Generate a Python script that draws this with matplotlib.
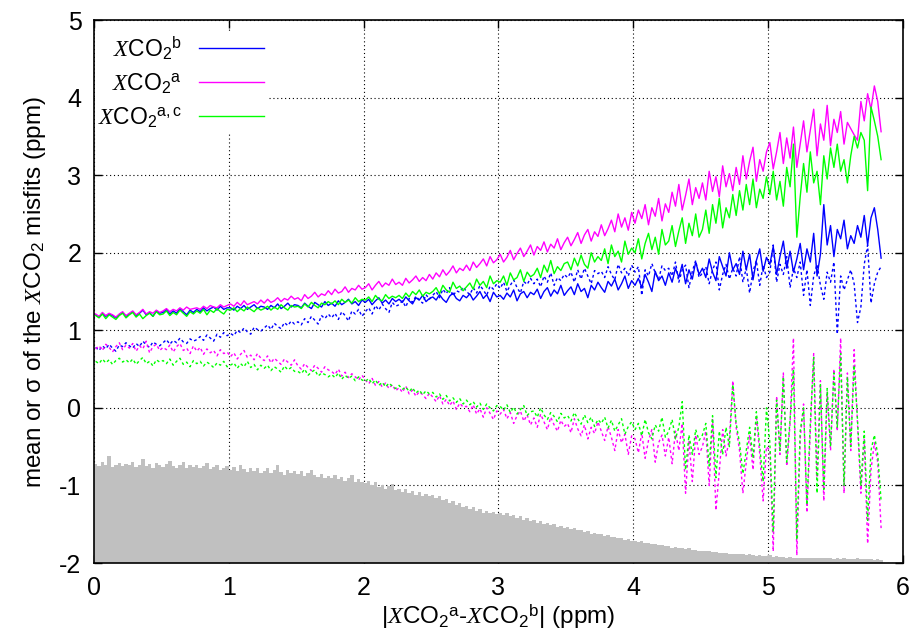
import numpy as np
import matplotlib
matplotlib.use("Agg")
import matplotlib.pyplot as plt

plt.rcParams['font.family'] = ['Liberation Sans', 'DejaVu Sans']
plt.rcParams['mathtext.fontset'] = 'custom'
plt.rcParams['mathtext.rm'] = 'Liberation Sans'
plt.rcParams['mathtext.it'] = 'Liberation Serif:italic'
plt.rcParams['axes.unicode_minus'] = False

# bin width of |XCO2a - XCO2b| (ppm)
bin_w = 0.025

# sigma of misfits (solid lines)
sig_b = [
    1.20, 1.17, 1.22, 1.18, 1.21, 1.19, 1.16, 1.20, 1.23, 1.18,
    1.21, 1.24, 1.19, 1.22, 1.26, 1.20, 1.23, 1.18, 1.25, 1.22,
    1.23, 1.27, 1.21, 1.25, 1.22, 1.28, 1.24, 1.20, 1.26, 1.23,
    1.27, 1.24, 1.29, 1.25, 1.28, 1.30, 1.26, 1.31, 1.27, 1.29,
    1.29, 1.26, 1.31, 1.28, 1.32, 1.27, 1.30, 1.33, 1.28, 1.31,
    1.30, 1.27, 1.32, 1.29, 1.34, 1.28, 1.31, 1.35, 1.30, 1.33,
    1.32, 1.29, 1.35, 1.31, 1.28, 1.36, 1.33, 1.30, 1.37, 1.32,
    1.35, 1.31, 1.38, 1.33, 1.36, 1.40, 1.34, 1.37, 1.32, 1.39,
    1.36, 1.40, 1.33, 1.38, 1.42, 1.35, 1.39, 1.34, 1.41, 1.37,
    1.40, 1.36, 1.43, 1.38, 1.34, 1.42, 1.39, 1.45, 1.37, 1.41,
    1.43, 1.39, 1.46, 1.40, 1.36, 1.44, 1.48, 1.41, 1.38, 1.45,
    1.42, 1.47, 1.39, 1.44, 1.50, 1.41, 1.46, 1.37, 1.49, 1.43,
    1.45, 1.40, 1.48, 1.43, 1.52, 1.38, 1.47, 1.50, 1.42, 1.49,
    1.46, 1.53, 1.41, 1.50, 1.55, 1.44, 1.52, 1.47, 1.58, 1.45,
    1.51, 1.56, 1.46, 1.60, 1.50, 1.54, 1.42, 1.58, 1.52, 1.62,
    1.55, 1.49, 1.63, 1.57, 1.66, 1.52, 1.60, 1.70, 1.54, 1.64,
    1.58, 1.67, 1.55, 1.72, 1.62, 1.50, 1.76, 1.64, 1.70, 1.58,
    1.74, 1.62, 1.80, 1.68, 1.85, 1.60, 1.78, 1.66, 1.88, 1.72,
    1.80, 1.68, 1.92, 1.75, 1.64, 1.95, 1.82, 1.70, 2.00, 1.78,
    1.86, 1.72, 2.02, 1.78, 1.98, 1.65, 1.90, 2.05, 1.76, 1.94,
    1.85, 2.08, 1.72, 1.95, 2.15, 1.80, 2.02, 1.75, 1.92, 2.12,
    1.78, 2.05, 1.88, 2.25, 1.70, 1.98, 2.62, 2.10, 2.35, 1.95,
    2.30, 2.18, 2.42, 2.05, 2.22, 2.12, 2.35, 2.20, 2.48, 2.10,
    2.45, 2.58, 2.30, 1.93,
]
sig_a = [
    1.21, 1.18, 1.23, 1.19, 1.22, 1.20, 1.17, 1.21, 1.24, 1.19,
    1.22, 1.25, 1.20, 1.23, 1.27, 1.21, 1.24, 1.22, 1.26, 1.23,
    1.25, 1.28, 1.24, 1.27, 1.25, 1.29, 1.26, 1.30, 1.27, 1.28,
    1.29, 1.27, 1.31, 1.28, 1.32, 1.30, 1.29, 1.33, 1.30, 1.32,
    1.34, 1.31, 1.36, 1.32, 1.38, 1.33, 1.35, 1.37, 1.34, 1.39,
    1.35, 1.40, 1.36, 1.38, 1.42, 1.37, 1.41, 1.39, 1.44, 1.40,
    1.42, 1.38, 1.46, 1.41, 1.44, 1.49, 1.43, 1.47, 1.45, 1.51,
    1.46, 1.53, 1.48, 1.50, 1.56, 1.49, 1.54, 1.52, 1.58, 1.53,
    1.55, 1.60, 1.52, 1.58, 1.63, 1.56, 1.61, 1.58, 1.66, 1.59,
    1.62, 1.58, 1.67, 1.61, 1.65, 1.70, 1.63, 1.68, 1.64, 1.72,
    1.66, 1.74, 1.69, 1.78, 1.71, 1.76, 1.83, 1.74, 1.80, 1.77,
    1.84, 1.77, 1.88, 1.81, 1.86, 1.92, 1.83, 1.95, 1.87, 1.91,
    1.98, 1.88, 1.94, 2.03, 1.91, 1.99, 2.06, 1.95, 2.02, 2.10,
    1.97, 2.08, 2.03, 2.14, 2.01, 2.11, 2.06, 2.18, 2.04, 2.13,
    2.20, 2.09, 2.17, 2.26, 2.12, 2.23, 2.30, 2.15, 2.27, 2.21,
    2.36, 2.22, 2.31, 2.42, 2.27, 2.50, 2.33, 2.45, 2.29, 2.52,
    2.38, 2.55, 2.44, 2.62, 2.36, 2.58, 2.47, 2.70, 2.41, 2.63,
    2.52, 2.78, 2.60, 2.88, 2.55, 2.74, 2.95, 2.62, 2.84, 2.70,
    2.90, 2.68, 3.05, 2.79, 2.98, 2.72, 3.12, 2.85, 3.02, 2.80,
    3.10, 2.88, 3.25, 2.95, 3.18, 3.36, 2.92, 3.20, 3.05, 3.30,
    3.42, 3.08, 3.30, 3.55, 3.15, 3.48, 3.22, 3.62, 3.10, 3.40,
    3.70, 3.30, 3.58, 3.85, 3.25, 3.66, 3.45, 3.90, 3.38, 3.72,
    3.55, 3.82, 3.40, 3.68, 3.60, 3.52, 3.45, 3.95, 3.70, 4.05,
    3.85, 4.15, 3.95, 3.56,
]
sig_ac = [
    1.19, 1.16, 1.21, 1.15, 1.20, 1.17, 1.14, 1.19, 1.22, 1.16,
    1.20, 1.23, 1.17, 1.21, 1.15, 1.19, 1.22, 1.18, 1.24, 1.20,
    1.21, 1.25, 1.19, 1.23, 1.20, 1.26, 1.22, 1.18, 1.24, 1.21,
    1.25, 1.22, 1.27, 1.20, 1.26, 1.23, 1.28, 1.24, 1.21, 1.27,
    1.26, 1.29, 1.24, 1.28, 1.25, 1.30, 1.27, 1.24, 1.29, 1.26,
    1.28, 1.31, 1.26, 1.30, 1.27, 1.33, 1.29, 1.26, 1.32, 1.30,
    1.31, 1.28, 1.34, 1.30, 1.36, 1.32, 1.29, 1.35, 1.33, 1.37,
    1.34, 1.38, 1.33, 1.40, 1.36, 1.39, 1.35, 1.42, 1.37, 1.40,
    1.39, 1.43, 1.37, 1.45, 1.40, 1.38, 1.46, 1.41, 1.44, 1.42,
    1.45, 1.41, 1.48, 1.43, 1.50, 1.46, 1.52, 1.44, 1.49, 1.47,
    1.50, 1.55, 1.47, 1.58, 1.52, 1.49, 1.62, 1.54, 1.57, 1.51,
    1.56, 1.61, 1.53, 1.66, 1.58, 1.63, 1.55, 1.70, 1.60, 1.64,
    1.62, 1.70, 1.58, 1.74, 1.65, 1.68, 1.78, 1.63, 1.75, 1.69,
    1.72, 1.80, 1.68, 1.84, 1.75, 1.90, 1.73, 1.82, 1.77, 1.86,
    1.88, 1.78, 1.93, 1.83, 1.97, 1.85, 1.80, 2.00, 1.88, 1.95,
    1.90, 2.05, 1.86, 2.10, 1.95, 2.02, 1.88, 2.15, 1.98, 2.06,
    2.00, 2.18, 1.92, 2.12, 2.25, 2.04, 2.20, 1.98, 2.30, 2.10,
    2.15, 2.35, 2.08, 2.28, 2.45, 2.12, 2.38, 2.22, 2.50, 2.20,
    2.30, 2.55, 2.25, 2.62, 2.38, 2.70, 2.32, 2.58, 2.45, 2.75,
    2.48, 2.80, 2.55, 2.88, 2.62, 2.95, 2.58, 2.82, 2.70, 2.98,
    2.75, 3.05, 2.68, 2.92, 2.60, 3.10, 2.85, 3.40, 2.20, 2.72,
    3.15, 2.78, 3.30, 2.90, 3.05, 2.62, 3.25, 2.95, 3.35, 3.10,
    3.40, 3.05, 3.20, 2.90, 3.25, 3.50, 3.35, 3.55, 3.45, 2.80,
    3.88, 3.70, 3.50, 3.20,
]

# mean of misfits (dotted lines)
mean_b = [
    0.78, 0.74, 0.80, 0.76, 0.82, 0.77, 0.73, 0.81, 0.79, 0.84,
    0.80, 0.77, 0.83, 0.79, 0.86, 0.81, 0.78, 0.85, 0.82, 0.80,
    0.84, 0.88, 0.82, 0.87, 0.84, 0.90, 0.85, 0.83, 0.89, 0.86,
    0.88, 0.92, 0.87, 0.94, 0.90, 0.86, 0.95, 0.91, 0.97, 0.93,
    0.96, 0.93, 1.00, 0.97, 1.03, 0.98, 0.95, 1.04, 1.01, 0.99,
    1.03, 1.07, 1.01, 1.09, 1.05, 1.02, 1.10, 1.06, 1.12, 1.08,
    1.11, 1.07, 1.15, 1.10, 1.18, 1.13, 1.08, 1.19, 1.15, 1.21,
    1.16, 1.22, 1.14, 1.24, 1.19, 1.12, 1.25, 1.21, 1.27, 1.18,
    1.24, 1.29, 1.21, 1.32, 1.26, 1.34, 1.28, 1.23, 1.36, 1.31,
    1.33, 1.38, 1.30, 1.41, 1.36, 1.44, 1.39, 1.35, 1.46, 1.40,
    1.45, 1.50, 1.42, 1.53, 1.47, 1.55, 1.44, 1.51, 1.49, 1.56,
    1.50, 1.46, 1.55, 1.48, 1.58, 1.52, 1.45, 1.57, 1.53, 1.60,
    1.54, 1.62, 1.50, 1.58, 1.65, 1.55, 1.48, 1.63, 1.59, 1.67,
    1.60, 1.66, 1.56, 1.70, 1.62, 1.74, 1.58, 1.68, 1.64, 1.72,
    1.68, 1.75, 1.62, 1.78, 1.66, 1.80, 1.70, 1.60, 1.77, 1.73,
    1.76, 1.68, 1.82, 1.72, 1.65, 1.85, 1.74, 1.80, 1.70, 1.84,
    1.75, 1.82, 1.45, 1.78, 1.70, 1.86, 1.74, 1.66, 1.83, 1.77,
    1.80, 1.70, 1.88, 1.62, 1.78, 1.84, 1.55, 1.76, 1.90, 1.68,
    1.74, 1.82, 1.60, 1.78, 1.88, 1.52, 1.72, 1.85, 1.66, 1.80,
    1.70, 1.95, 1.62, 1.80, 1.48, 1.76, 1.90, 1.58, 1.84, 1.68,
    1.75, 2.10, 1.62, 1.85, 1.72, 1.95, 1.55, 1.80, 1.68, 1.88,
    1.45, 1.78, 1.32, 1.70, 1.85, 1.58, 1.40, 1.75, 1.62, 1.88,
    0.95, 1.70, 1.52, 1.65, 1.78, 1.60, 1.10, 1.30, 1.85, 2.10,
    1.35, 1.60, 1.75, 1.82,
]
mean_a = [
    0.76, 0.80, 0.74, 0.82, 0.78, 0.72, 0.79, 0.84, 0.75, 0.81,
    0.77, 0.83, 0.73, 0.80, 0.76, 0.86, 0.71, 0.79, 0.82, 0.74,
    0.78, 0.75, 0.81, 0.72, 0.79, 0.83, 0.74, 0.77, 0.70, 0.80,
    0.73, 0.78, 0.69, 0.76, 0.71, 0.74, 0.67, 0.75, 0.70, 0.72,
    0.66, 0.71, 0.63, 0.69, 0.74, 0.65, 0.68, 0.62, 0.70, 0.64,
    0.61, 0.67, 0.58, 0.64, 0.60, 0.56, 0.63, 0.59, 0.55, 0.62,
    0.54, 0.50, 0.57, 0.52, 0.48, 0.55, 0.51, 0.46, 0.53, 0.49,
    0.47, 0.43, 0.50, 0.41, 0.46, 0.39, 0.44, 0.40, 0.36, 0.42,
    0.36, 0.31, 0.38, 0.29, 0.34, 0.27, 0.32, 0.25, 0.30, 0.22,
    0.26, 0.20, 0.28, 0.18, 0.23, 0.15, 0.21, 0.17, 0.12, 0.19,
    0.14, 0.08, 0.16, 0.05, 0.11, 0.03, 0.09, -0.02, 0.06, 0.01,
    0.02, -0.05, 0.04, -0.08, -0.01, -0.12, 0.00, -0.07, -0.15, -0.04,
    -0.08, -0.02, -0.14, -0.06, -0.20, -0.10, -0.04, -0.17, -0.09, -0.22,
    -0.13, -0.25, -0.08, -0.18, -0.28, -0.12, -0.22, -0.30, -0.16, -0.24,
    -0.20, -0.32, -0.14, -0.27, -0.36, -0.22, -0.40, -0.25, -0.33, -0.18,
    -0.30, -0.42, -0.24, -0.38, -0.55, -0.28, -0.45, -0.34, -0.60, -0.36,
    -0.40, -0.58, -0.32, -0.65, -0.42, -0.28, -0.70, -0.45, -0.35, -0.62,
    -0.38, -0.72, -0.30, -0.55, -0.20, -1.10, -0.42, -0.95, -0.35, -0.60,
    -0.50, -0.30, -1.00, -0.15, -1.32, -0.82, -0.28, -0.62, -0.40, 0.35,
    -0.25, -0.55, -1.10, -0.70, -0.35, -0.80, -0.10, -0.60, -1.20, -0.50,
    -0.55, -1.85, 0.15, -0.60, 0.45, -0.75, -0.20, 0.90, -1.90, -0.40,
    0.05, -1.35, -0.30, 0.70, -0.90, 0.35, -1.20, 0.20, -0.55, 0.50,
    -0.30, 0.90, -1.10, 0.45, -0.55, 0.75, -0.20, -1.10, -0.40, -1.75,
    -0.80, -0.45, -0.70, -1.55,
]
mean_ac = [
    0.60, 0.57, 0.63, 0.58, 0.62, 0.56, 0.61, 0.64, 0.59, 0.62,
    0.58, 0.63, 0.56, 0.61, 0.65, 0.57, 0.60, 0.54, 0.62, 0.59,
    0.61, 0.57, 0.63, 0.55, 0.60, 0.64, 0.56, 0.59, 0.53, 0.61,
    0.57, 0.60, 0.54, 0.59, 0.56, 0.52, 0.58, 0.55, 0.60, 0.53,
    0.55, 0.58, 0.51, 0.57, 0.53, 0.60, 0.52, 0.56, 0.49, 0.55,
    0.51, 0.55, 0.48, 0.53, 0.50, 0.46, 0.54, 0.49, 0.52, 0.47,
    0.47, 0.44, 0.50, 0.42, 0.46, 0.49, 0.41, 0.45, 0.43, 0.40,
    0.43, 0.39, 0.45, 0.37, 0.42, 0.38, 0.41, 0.35, 0.40, 0.36,
    0.34, 0.38, 0.31, 0.36, 0.29, 0.33, 0.27, 0.32, 0.28, 0.25,
    0.29, 0.24, 0.27, 0.21, 0.26, 0.19, 0.23, 0.17, 0.22, 0.18,
    0.20, 0.14, 0.18, 0.11, 0.16, 0.09, 0.13, 0.07, 0.12, 0.05,
    0.10, 0.04, 0.08, 0.01, 0.06, -0.02, 0.05, 0.00, -0.04, 0.03,
    0.02, -0.03, 0.04, -0.06, 0.01, -0.08, -0.02, 0.03, -0.10, -0.05,
    -0.04, -0.12, 0.00, -0.09, -0.15, -0.06, -0.11, -0.18, -0.07, -0.13,
    -0.10, -0.17, -0.06, -0.14, -0.21, -0.09, -0.19, -0.12, -0.24, -0.15,
    -0.20, -0.12, -0.26, -0.16, -0.30, -0.22, -0.14, -0.34, -0.24, -0.18,
    -0.28, -0.20, -0.36, -0.15, -0.32, -0.40, -0.22, -0.30, -0.12, -0.38,
    -0.30, -0.15, -0.40, -0.25, 0.08, -0.80, -0.35, -0.60, -0.28, -0.42,
    -0.35, -0.20, -0.75, -0.10, -0.90, -0.30, -0.60, -0.25, -0.50, 0.30,
    -0.20, -0.45, -0.85, -0.55, -0.25, -0.65, -0.05, -0.50, -0.95, 0.00,
    -0.45, -1.60, 0.10, -0.55, 0.40, -0.70, -0.15, 0.50, -1.70, -0.30,
    0.00, -1.25, -0.20, 0.65, -1.10, 0.30, -1.05, 0.25, -0.50, 0.45,
    -0.25, 0.70, -1.00, 0.40, -0.50, 0.55, -0.15, -1.00, -0.30, -1.45,
    -0.55, -0.35, -0.60, -1.20,
]

# histogram of samples, drawn as bar tops above the y=-2 baseline
hist_top = [
    -0.72, -0.75, -0.70, -0.74, -0.62, -0.76, -0.73, -0.71, -0.75, -0.72,
    -0.74, -0.70, -0.76, -0.73, -0.66, -0.75, -0.72, -0.77, -0.71, -0.74,
    -0.76, -0.72, -0.68, -0.75, -0.78, -0.73, -0.70, -0.77, -0.74, -0.76,
    -0.73, -0.78, -0.75, -0.71, -0.79, -0.76, -0.74, -0.80, -0.77, -0.75,
    -0.80, -0.76, -0.82, -0.74, -0.79, -0.83, -0.78, -0.81, -0.77, -0.84,
    -0.81, -0.78, -0.84, -0.80, -0.74, -0.83, -0.86, -0.80, -0.84, -0.82,
    -0.85, -0.82, -0.88, -0.84, -0.80, -0.87, -0.89, -0.85, -0.91, -0.88,
    -0.90, -0.86, -0.92, -0.89, -0.94, -0.90, -0.87, -0.95, -0.92, -0.96,
    -0.97, -0.94, -1.00, -0.96, -1.02, -0.99, -1.04, -1.01, -0.98, -1.06,
    -1.04, -1.08, -1.05, -1.10, -1.07, -1.12, -1.09, -1.14, -1.11, -1.13,
    -1.12, -1.16, -1.14, -1.19, -1.17, -1.22, -1.20, -1.25, -1.23, -1.28,
    -1.26, -1.30, -1.28, -1.33, -1.31, -1.35, -1.33, -1.36, -1.34, -1.37,
    -1.35, -1.38, -1.36, -1.40, -1.38, -1.42, -1.40, -1.44, -1.42, -1.46,
    -1.45, -1.48, -1.46, -1.50, -1.48, -1.51, -1.50, -1.53, -1.52, -1.55,
    -1.54, -1.56, -1.55, -1.58, -1.57, -1.60, -1.59, -1.62, -1.61, -1.63,
    -1.63, -1.65, -1.64, -1.67, -1.66, -1.68, -1.68, -1.70, -1.69, -1.71,
    -1.71, -1.73, -1.72, -1.74, -1.74, -1.76, -1.75, -1.77, -1.77, -1.78,
    -1.78, -1.80, -1.79, -1.80, -1.81, -1.82, -1.81, -1.83, -1.83, -1.84,
    -1.84, -1.85, -1.85, -1.86, -1.86, -1.87, -1.87, -1.87, -1.88, -1.88,
    -1.88, -1.89, -1.89, -1.90, -1.89, -1.90, -1.91, -1.90, -1.91, -1.91,
    -1.90, -1.92, -1.91, -1.92, -1.92, -1.93, -1.92, -1.93, -1.93, -1.93,
    -1.93, -1.94, -1.93, -1.94, -1.94, -1.94, -1.93, -1.94, -1.94, -1.95,
    -1.94, -1.95, -1.94, -1.95, -1.95, -1.95, -1.94, -1.95, -1.95, -1.95,
    -1.95, -1.96, -1.95, -1.96,
]

x = bin_w / 2 + bin_w * np.arange(len(hist_top))

fig = plt.figure(figsize=(9.15, 6.39), dpi=100)
ax = fig.add_axes([0.1027, 0.1189, 0.8842, 0.8498])

ax.bar(x, np.array(hist_top) + 2, width=bin_w, bottom=-2, color='#c0c0c0',
       linewidth=0, zorder=1)

dash = (0, (2.0, 2.0))
ax.plot(x, mean_b, color='#0000ff', lw=1.0, ls=dash, zorder=2)
ax.plot(x, mean_a, color='#ff00ff', lw=1.0, ls=dash, zorder=2)
ax.plot(x, mean_ac, color='#00ff00', lw=1.0, ls=dash, zorder=2)
ax.plot(x, sig_b, color='#0000ff', lw=1.0, zorder=3,
        label=r'$\mathit{X}$CO$_2$$^{\rm b}$')
ax.plot(x, sig_a, color='#ff00ff', lw=1.0, zorder=3,
        label=r'$\mathit{X}$CO$_2$$^{\rm a}$')
ax.plot(x, sig_ac, color='#00ff00', lw=1.0, zorder=3,
        label=r'$\mathit{X}$CO$_2$$^{\rm a,c}$')

ax.set_xlim(0, 6)
ax.set_ylim(-2, 5)
ax.set_xticks(range(0, 7))
ax.set_yticks(range(-2, 6))
ax.set_axisbelow(True)
ax.grid(True, color='black', lw=0.8, ls=(0, (1, 2.5)))
ax.tick_params(direction='in', length=6, width=1, top=True, right=True,
               labelsize=18, pad=9)
for s in ax.spines.values():
    s.set_linewidth(1.2)
    s.set_zorder(6)

ax.set_xlabel(r'|$\mathit{X}$CO$_2$$^{\rm a}$-$\mathit{X}$CO$_2$$^{\rm b}$| (ppm)',
              fontsize=17.5, labelpad=2)
ax.set_ylabel(r'mean or σ of the $\mathit{X}$CO$_2$ misfits (ppm)',
              fontsize=17.5, labelpad=8)

leg = ax.legend(loc='upper right', bbox_to_anchor=(0.228, 1.0),
                markerfirst=False, fontsize=16.5, handlelength=2.85,
                handletextpad=0.74, labelspacing=0.42, borderpad=0.12,
                frameon=True, fancybox=False, framealpha=1.0,
                facecolor='white', edgecolor='none')
leg.set_zorder(5)

fig.savefig('out.png', dpi=100)
